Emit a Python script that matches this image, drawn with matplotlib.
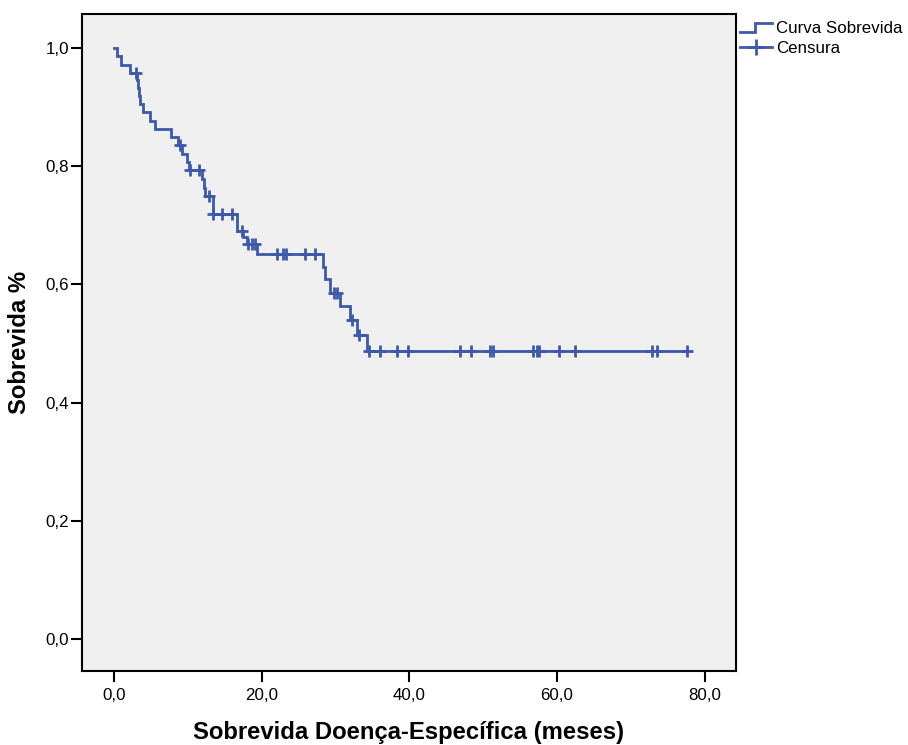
import numpy as np
import matplotlib
matplotlib.use("Agg")
import matplotlib.pyplot as plt
from matplotlib.lines import Line2D
from matplotlib.legend_handler import HandlerBase

# Kaplan-Meier estimate: time of each drop (months) and survival after it
event_times = [0.0, 0.38, 0.84, 2.10, 3.09, 3.13, 3.36, 3.46, 3.91, 4.81, 5.56,
               7.62, 8.65, 9.15, 9.83, 10.14, 11.82, 12.14, 12.34, 13.36, 16.6,
               17.46, 17.93, 19.3, 28.31, 28.54, 29.22, 30.58, 31.97, 32.84, 34.2]
survival = [1.0, 0.986, 0.972, 0.958, 0.946, 0.933, 0.919, 0.905, 0.891, 0.877, 0.863,
            0.849, 0.835, 0.821, 0.807, 0.793, 0.778, 0.763, 0.749, 0.719, 0.691,
            0.680, 0.669, 0.651, 0.630, 0.609, 0.586, 0.563, 0.540, 0.515, 0.488]

# Censored observations (months)
censor_times = [2.87, 8.88, 10.24, 11.46, 12.81, 13.4, 14.62, 15.89, 17.33, 18.1,
                18.6, 19.0, 22.03, 22.8, 23.2, 25.83, 27.25, 29.8, 30.13, 32.2,
                33.1, 34.55, 36.0, 38.27, 39.84, 46.85, 48.34, 50.92, 51.28, 56.79,
                57.25, 57.6, 60.31, 62.44, 72.92, 73.6, 77.59]

x_ticks = [0, 20, 40, 60, 80]
x_tick_labels = ["0,0", "20,0", "40,0", "60,0", "80,0"]
y_ticks = [0.0, 0.2, 0.4, 0.6, 0.8, 1.0]
y_tick_labels = ["0,0", "0,2", "0,4", "0,6", "0,8", "1,0"]

BLUE = "#3D59AB"
FONT = "Liberation Sans"

t = np.asarray(event_times)
s = np.asarray(survival)
c = np.asarray(censor_times)
# curve runs until the last follow-up time
t_line = np.append(t, max(t.max(), c.max()))
s_line = np.append(s, s[-1])
c_surv = s[np.searchsorted(t, c, side="right") - 1]

fig = plt.figure(figsize=(9.08, 7.45), dpi=100, facecolor="white")
ax = fig.add_axes([81.5 / 908, 1 - 671.3 / 745, (736 - 81.5) / 908, (671.3 - 14) / 745])
ax.set_facecolor("#F0F0F0")

ax.step(t_line, s_line, where="post", color=BLUE, lw=2.0, solid_joinstyle="miter")
ax.plot(c, c_surv, ls="none", marker="+", ms=8, mew=2.0, color=BLUE)

ax.set_xlim(-4.47, 84.27)
ax.set_ylim(-0.0547, 1.0575)
ax.set_xticks(x_ticks)
ax.set_xticklabels(x_tick_labels)
ax.set_yticks(y_ticks)
ax.set_yticklabels(y_tick_labels)
ax.tick_params(direction="out", length=8, width=1.5, labelsize=12.2)
ax.tick_params(axis="x", pad=4)
ax.tick_params(axis="y", pad=1)
for lab in ax.get_xticklabels() + ax.get_yticklabels():
    lab.set_fontfamily(FONT)
for sp in ax.spines.values():
    sp.set_linewidth(1.5)

ax.set_xlabel("Sobrevida Doença-Específica (meses)", fontsize=17.2,
              fontweight="bold", fontfamily=FONT)
ax.xaxis.label.set_va("center")
ax.xaxis.set_label_coords(0.5, (671.3 - 733) / (671.3 - 14))
ax.set_ylabel("Sobrevida %", fontsize=17.2, fontweight="bold", fontfamily=FONT)
ax.yaxis.label.set_va("center")
ax.yaxis.set_label_coords((20 - 81.5) / 654.5, 0.5)


class StepHandler(HandlerBase):
    def create_artists(self, legend, orig_handle, xdescent, ydescent,
                       width, height, fontsize, trans):
        x0, y0 = -xdescent, -ydescent
        xs = [x0, x0 + 0.47 * width, x0 + 0.47 * width, x0 + width]
        ys = [y0 + 0.05 * height, y0 + 0.05 * height, y0 + 0.85 * height, y0 + 0.85 * height]
        ln = Line2D(xs, ys, color=orig_handle.get_color(), lw=orig_handle.get_linewidth(),
                    solid_joinstyle="miter")
        ln.set_transform(trans)
        return [ln]


curve_handle = Line2D([], [], color=BLUE, lw=2.0)
censor_handle = Line2D([], [], color=BLUE, lw=2.0, marker="+", ms=11, mew=2.0)
leg = fig.legend([curve_handle, censor_handle], ["Curva Sobrevida", "Censura"],
                 handler_map={curve_handle: StepHandler()},
                 loc="upper left", bbox_to_anchor=(740 / 908, 1 - 21 / 745),
                 frameon=False, borderpad=0, borderaxespad=0,
                 handlelength=1.9, handletextpad=0.25, labelspacing=0.32,
                 prop={"family": FONT, "size": 12.2})

fig.savefig("out.png", dpi=100, facecolor="white")
